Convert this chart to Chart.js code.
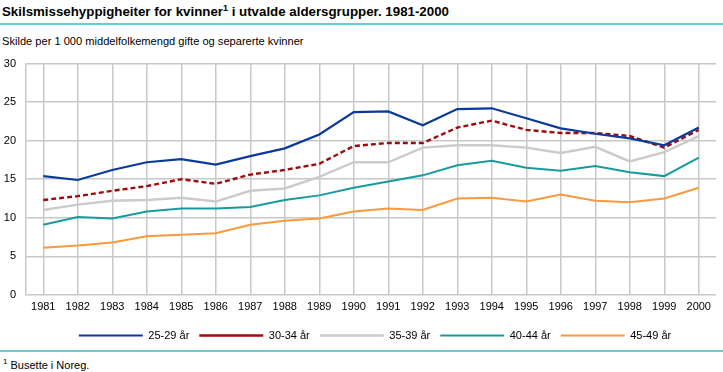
<!DOCTYPE html>
<html>
<head>
<meta charset="utf-8">
<script src="https://cdn.jsdelivr.net/npm/chart.js@4"></script>
<style>
  body { margin: 0; width: 723px; height: 372px; position: relative; background: #fff; overflow: hidden;
         font-family: "Liberation Sans", Arial, sans-serif; color: #000; }
  #title { position: absolute; left: 2px; top: 4px; font-weight: bold; font-size: 13.3px; white-space: nowrap; }
  #title sup { font-size: 9px; line-height: 0; }
  .rule { position: absolute; left: 0; width: 723px; height: 2px; background: #66cccc; }
  #sub { position: absolute; left: 2px; top: 35px; font-size: 11.1px; white-space: nowrap; }
  #wrap { position: absolute; left: 0; top: 47px; width: 723px; height: 309px; }
  #foot { position: absolute; left: 3px; top: 357px; font-size: 11px; white-space: nowrap; }
  #foot sup { font-size: 8px; }
</style>
</head>
<body>
<div id="title">Skilsmissehyppigheiter for kvinner<sup>1</sup> i utvalde aldersgrupper. 1981-2000</div>
<div class="rule" style="top:23px"></div>
<div id="sub">Skilde per 1 000 middelfolkemengd gifte og separerte kvinner</div>
<div id="wrap"><canvas id="divorceChart"></canvas></div>
<div class="rule" style="top:350px"></div>
<div id="foot"><sup>1</sup> Busette i Noreg.</div>

<script>
// data
const years = ['1981', '1982', '1983', '1984', '1985', '1986', '1987', '1988', '1989', '1990',
               '1991', '1992', '1993', '1994', '1995', '1996', '1997', '1998', '1999', '2000'];
const seriesNames = ['25-29 år', '30-34 år', '35-39 år', '40-44 år', '45-49 år'];
const age2529 = [15.4, 14.9, 16.2, 17.2, 17.6, 16.9, 18.0, 19.0, 20.8, 23.7, 23.8, 22.0, 24.1, 24.2, 22.9, 21.6, 20.9, 20.3, 19.4, 21.7];
const age3034 = [12.3, 12.8, 13.5, 14.1, 15.0, 14.4, 15.6, 16.2, 17.0, 19.3, 19.7, 19.7, 21.7, 22.6, 21.4, 21.0, 21.0, 20.6, 19.1, 21.4];
const age3539 = [11.0, 11.7, 12.2, 12.3, 12.6, 12.1, 13.5, 13.8, 15.3, 17.2, 17.2, 19.1, 19.4, 19.4, 19.1, 18.4, 19.2, 17.3, 18.5, 20.6];
const age4044 = [9.1, 10.1, 9.9, 10.8, 11.2, 11.2, 11.4, 12.3, 12.9, 13.9, 14.7, 15.5, 16.8, 17.4, 16.5, 16.1, 16.7, 15.9, 15.4, 17.8];
const age4549 = [6.1, 6.4, 6.8, 7.6, 7.8, 8.0, 9.1, 9.6, 9.9, 10.8, 11.2, 11.0, 12.5, 12.6, 12.1, 13.0, 12.2, 12.0, 12.5, 13.9];
const yTicks = [0, 5, 10, 15, 20, 25, 30];

const gridColor = '#c8c8c8';

function lineSet(label, data, color, width, dash) {
    return {
        label: label,
        data: data,
        borderColor: color,
        backgroundColor: color,
        borderWidth: width,
        borderDash: dash || [],
        pointRadius: 0,
        pointHoverRadius: 0,
        tension: 0,
        fill: false
    };
}

// legend in the reference sits a bit right of the canvas centre
const legendShift = {
    id: 'legendShift',
    afterLayout: function(chart) {
        if (chart.legend) {
            chart.legend.left += 17;
            chart.legend.right += 17;
        }
    }
};

const ctx = document.getElementById('divorceChart');
new Chart(ctx.getContext('2d'), {
    type: 'line',
    data: {
        labels: years,
        datasets: [
            lineSet(seriesNames[0], age2529, '#0b3a9a', 2.2),
            lineSet(seriesNames[1], age3034, '#9e0b0f', 2.4, [5, 3]),
            lineSet(seriesNames[2], age3539, '#cbcbcb', 2.4),
            lineSet(seriesNames[3], age4044, '#169c9c', 2),
            lineSet(seriesNames[4], age4549, '#fb9a3c', 2)
        ]
    },
    plugins: [legendShift],
    options: {
        responsive: true,
        maintainAspectRatio: false,
        animation: false,
        layout: { padding: { left: 0, right: 7, top: 11, bottom: 5 } },
        plugins: {
            tooltip: { enabled: false },
            legend: {
                position: 'bottom',
                labels: {
                    usePointStyle: true,
                    pointStyle: 'line',
                    pointStyleWidth: 64,
                    padding: 10,
                    color: '#000',
                    font: { family: '"Liberation Sans", Arial, sans-serif', size: 11 }
                }
            }
        },
        scales: {
            x: {
                offset: true,
                grid: { offset: false, color: gridColor, lineWidth: 1.5, drawTicks: false },
                border: { display: false },
                ticks: {
                    color: '#000',
                    padding: 6,
                    maxRotation: 0,
                    autoSkip: false,
                    font: { family: '"Liberation Sans", Arial, sans-serif', size: 11 }
                }
            },
            y: {
                min: 0,
                max: 30,
                afterBuildTicks: function(scale) {
                    scale.ticks = yTicks.map(function(v) { return { value: v }; });
                },
                afterFit: function(scale) { scale.width = 26; },
                grid: { color: gridColor, lineWidth: 1.5, drawTicks: false },
                border: { display: true, color: gridColor, width: 1.5 },
                ticks: {
                    color: '#000',
                    padding: 10,
                    font: { family: '"Liberation Sans", Arial, sans-serif', size: 11 }
                }
            }
        }
    }
});
</script>
</body>
</html>
